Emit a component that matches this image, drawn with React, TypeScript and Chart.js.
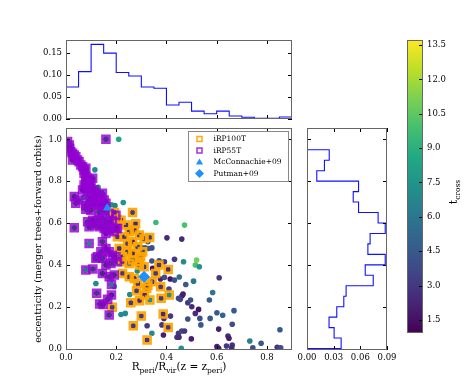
import React, { useEffect, useRef } from 'react';
import { Chart, registerables } from 'chart.js';
Chart.register(...registerables);

const W = 473;
const H = 377;
const FONT = "'DejaVu Serif', serif";

// ---------------- data ----------------
// top histogram: normalised distribution of R_peri/R_vir
const rperiEdges = [0, 0.05, 0.1, 0.15, 0.2, 0.25, 0.3, 0.35, 0.4, 0.45, 0.5, 0.55, 0.6, 0.65, 0.7, 0.75, 0.8, 0.85, 0.9];
const rperiDensity = [0.073, 0.108, 0.17, 0.15, 0.106, 0.098, 0.073, 0.07, 0.032, 0.038, 0.018, 0.012, 0.018, 0.007, 0.004, 0.0015, 0.0015, 0.0045];

// right histogram: normalised distribution of eccentricity
const eccEdges = [0, 0.05, 0.1, 0.15, 0.2, 0.25, 0.3, 0.35, 0.4, 0.45, 0.5, 0.55, 0.6, 0.65, 0.7, 0.75, 0.8, 0.85, 0.9, 0.95];
const eccDensity = [0.0384, 0.0305, 0.0248, 0.0335, 0.0414, 0.044, 0.0745, 0.0655, 0.088, 0.0685, 0.071, 0.088, 0.08, 0.058, 0.052, 0.058, 0.011, 0.0196, 0.025];

// tick values
const rperiTicks = [0, 0.2, 0.4, 0.6, 0.8];
const eccTicks = [0, 0.2, 0.4, 0.6, 0.8, 1.0];
const rperiDensTicks = [0, 0.05, 0.1, 0.15];
const eccDensTicks = [0, 0.03, 0.06, 0.09];
const tcrossTicks = [1.5, 3, 4.5, 6, 7.5, 9, 10.5, 12, 13.5];
const tcrossMin = 0.93;
const tcrossMax = 13.72;

// all orbits: [R_peri/R_vir, eccentricity, t_cross]
const allOrbits: number[][] = [
  [0.21, 1.0, 8.5], [0.115, 0.854, 7], [0.128, 0.771, 7], [0.07, 0.723, 7], [0.181, 0.687, 7.5], [0.195, 0.683, 6.5],
  [0.228, 0.698, 7.5], [0.358, 0.602, 9.5], [0.472, 0.59, 10], [0.326, 0.51, 4.5], [0.302, 0.481, 4.5], [0.315, 0.481, 4.5],
  [0.329, 0.478, 4.5], [0.342, 0.481, 4], [0.402, 0.529, 2.5], [0.461, 0.523, 2.5], [0.342, 0.418, 4], [0.371, 0.419, 4],
  [0.392, 0.415, 3], [0.432, 0.427, 3], [0.468, 0.415, 7], [0.52, 0.423, 11], [0.515, 0.399, 10], [0.531, 0.391, 7.5],
  [0.284, 0.37, 7], [0.345, 0.383, 1.5], [0.451, 0.342, 5.5], [0.415, 0.332, 1.5], [0.432, 0.327, 4], [0.376, 0.332, 2],
  [0.392, 0.34, 4], [0.41, 0.284, 3.5], [0.508, 0.322, 6], [0.61, 0.338, 3], [0.477, 0.306, 4.5], [0.466, 0.26, 2],
  [0.462, 0.252, 2], [0.448, 0.24, 3.5], [0.455, 0.235, 3.5], [0.485, 0.219, 3], [0.496, 0.232, 4], [0.501, 0.2, 2.5],
  [0.528, 0.187, 1.5], [0.515, 0.168, 2.5], [0.584, 0.268, 6], [0.571, 0.232, 4.5], [0.601, 0.171, 4.5], [0.574, 0.144, 4.5],
  [0.624, 0.159, 5], [0.608, 0.093, 2], [0.485, 0.141, 4], [0.537, 0.113, 4.5], [0.382, 0.113, 3], [0.323, 0.109, 3],
  [0.342, 0.073, 7], [0.388, 0.065, 2], [0.448, 0.073, 3], [0.461, 0.084, 3.5], [0.472, 0.084, 3], [0.442, 0.054, 3],
  [0.45, 0.054, 2.5], [0.499, 0.046, 2], [0.459, 0.001, 7.5], [0.645, 0.06, 2.5], [0.649, 0.049, 2], [0.662, 0.017, 3],
  [0.601, 0.009, 2], [0.608, 0.001, 2], [0.639, 0.012, 3], [0.66, 0.004, 2.5], [0.669, 0.181, 4.5], [0.662, 0.116, 4],
  [0.732, 0.036, 6.5], [0.744, 0.004, 4], [0.777, 0.025, 4.5], [0.852, 0.09, 4.5], [0.841, 0.006, 3], [0.855, 0.004, 4],
  [0.119, 0.311, 7], [0.192, 0.297, 7], [0.254, 0.258, 7], [0.219, 0.163, 7], [0.236, 0.168, 7], [0.416, 0.155, 3],
  [0.39, 0.144, 2.5], [0.533, 0.144, 4],
];

// iRP55T subsample: [R_peri/R_vir, eccentricity, t_cross]
const iRP55T: number[][] = [
  [0.006, 0.989, 2.5], [0.013, 0.973, 3], [0.015, 0.957, 2], [0.019, 0.941, 3.5], [0.026, 0.933, 2.5], [0.033, 0.925, 3],
  [0.026, 0.901, 2], [0.039, 0.917, 3], [0.046, 0.901, 2.5], [0.052, 0.893, 4], [0.059, 0.877, 3], [0.066, 0.869, 2],
  [0.072, 0.853, 3.5], [0.079, 0.861, 2.5], [0.072, 0.838, 3], [0.079, 0.822, 2], [0.086, 0.814, 3], [0.092, 0.806, 2.5],
  [0.079, 0.798, 4], [0.072, 0.782, 3], [0.086, 0.782, 2], [0.099, 0.79, 3], [0.106, 0.814, 2.5], [0.099, 0.766, 3.5],
  [0.079, 0.766, 3], [0.066, 0.758, 2], [0.086, 0.75, 3], [0.112, 0.758, 2.5], [0.119, 0.742, 3], [0.132, 0.734, 2],
  [0.145, 0.742, 3.5], [0.139, 0.718, 3], [0.125, 0.71, 2.5], [0.112, 0.702, 3], [0.099, 0.718, 2], [0.092, 0.71, 3],
  [0.106, 0.687, 2.5], [0.079, 0.683, 3], [0.052, 0.71, 4], [0.039, 0.694, 3], [0.033, 0.726, 2.5], [0.152, 0.71, 3],
  [0.159, 0.694, 2], [0.145, 0.687, 3], [0.132, 0.687, 2.5], [0.159, 1.0, 3],
  [0.079, 0.666, 3], [0.099, 0.661, 2.5], [0.132, 0.653, 3], [0.152, 0.661, 2], [0.172, 0.645, 3], [0.199, 0.637, 2.5],
  [0.086, 0.606, 3], [0.106, 0.613, 2], [0.125, 0.613, 3], [0.145, 0.621, 3.5], [0.159, 0.606, 2.5], [0.172, 0.598, 3],
  [0.185, 0.613, 2], [0.132, 0.582, 3], [0.152, 0.574, 2.5], [0.172, 0.566, 3], [0.199, 0.574, 2], [0.033, 0.577, 3],
  [0.092, 0.582, 2.5], [0.112, 0.59, 3], [0.159, 0.55, 2.5], [0.192, 0.558, 3], [0.205, 0.574, 2],
  [0.092, 0.502, 7], [0.145, 0.51, 3], [0.159, 0.478, 2.5], [0.139, 0.462, 3], [0.125, 0.439, 2], [0.145, 0.431, 3],
  [0.172, 0.462, 2.5], [0.185, 0.446, 3], [0.119, 0.431, 3.5], [0.159, 0.399, 2.5], [0.179, 0.407, 3], [0.199, 0.439, 2],
  [0.205, 0.415, 3], [0.079, 0.375, 6], [0.107, 0.38, 3], [0.145, 0.359, 2.5], [0.172, 0.343, 3], [0.192, 0.351, 2.5],
  [0.181, 0.306, 6], [0.122, 0.264, 3], [0.134, 0.213, 3], [0.148, 0.21, 2.5], [0.166, 0.235, 3], [0.181, 0.256, 2],
  [0.172, 0.16, 3],
];

// iRP100T subsample: [R_peri/R_vir, eccentricity, t_cross]
const iRP100T: number[][] = [
  [0.265, 0.65, 3], [0.193, 0.65, 2.5], [0.219, 0.613, 3], [0.204, 0.617, 2], [0.239, 0.59, 3], [0.277, 0.596, 2.5],
  [0.205, 0.534, 3], [0.232, 0.534, 2.5], [0.252, 0.558, 3], [0.272, 0.566, 2], [0.292, 0.542, 3], [0.311, 0.526, 3.5],
  [0.333, 0.531, 3], [0.212, 0.478, 2.5], [0.245, 0.502, 3], [0.265, 0.51, 2], [0.285, 0.486, 3], [0.225, 0.439, 2.5],
  [0.245, 0.462, 3], [0.265, 0.454, 2], [0.305, 0.462, 3.5], [0.225, 0.415, 3], [0.265, 0.423, 2.5], [0.252, 0.407, 3],
  [0.292, 0.415, 2], [0.297, 0.439, 3], [0.292, 0.399, 2.5], [0.311, 0.391, 3], [0.37, 0.399, 3], [0.407, 0.378, 2.5],
  [0.357, 0.359, 3], [0.252, 0.343, 3], [0.272, 0.335, 2.5], [0.343, 0.319, 3], [0.286, 0.311, 2.5], [0.326, 0.303, 3],
  [0.321, 0.288, 2], [0.281, 0.276, 3], [0.313, 0.256, 2.5], [0.377, 0.295, 3], [0.379, 0.24, 3], [0.411, 0.256, 7],
  [0.258, 0.219, 3], [0.293, 0.229, 2.5], [0.334, 0.232, 7], [0.184, 0.197, 3], [0.3, 0.155, 3], [0.387, 0.165, 2.5],
  [0.268, 0.109, 3], [0.407, 0.101, 3], [0.323, 0.041, 3], [0.225, 0.359, 3],
];

const mcConnachie09 = [[0.164, 0.672]];
const putman09 = [[0.311, 0.343]];
const legendLabels = ['iRP100T', 'iRP55T', 'McConnachie+09', 'Putman+09'];

// ---------------- styling ----------------
const ORANGE = 'rgba(255,165,0,0.95)';
const PURPLE = 'rgba(148,0,211,0.82)';
const OBS_BLUE = '#1E90FF';
const HIST_BLUE = '#1010ff';

const VIRIDIS = ['#440154', '#482475', '#414487', '#355f8d', '#2a788e', '#21918c', '#22a884', '#44bf70', '#7ad151', '#bddf26', '#fde725'];
function hexRgb(h: string) {
  return [parseInt(h.slice(1, 3), 16), parseInt(h.slice(3, 5), 16), parseInt(h.slice(5, 7), 16)];
}
function viridis(f: number) {
  const c = Math.max(0, Math.min(1, f));
  const p = c * 10;
  const i = Math.min(9, Math.floor(p));
  const t = p - i;
  const a = hexRgb(VIRIDIS[i]);
  const b = hexRgb(VIRIDIS[i + 1]);
  return `rgb(${Math.round(a[0] + (b[0] - a[0]) * t)},${Math.round(a[1] + (b[1] - a[1]) * t)},${Math.round(a[2] + (b[2] - a[2]) * t)})`;
}
const tColor = (t: number) => viridis((t - tcrossMin) / (tcrossMax - tcrossMin));

// plot rectangles (page pixels)
const RECT = {
  top: { l: 66, r: 292, t: 40, b: 119 },
  main: { l: 66, r: 292, t: 128, b: 350 },
  right: { l: 307, r: 387, t: 128, b: 350 },
  cbar: { l: 407, r: 423, t: 40, b: 333 },
};

function scale(min: number, max: number, ticks: number[], digits: number, position: string, size: number, labels = true) {
  return {
    type: 'linear',
    position,
    min,
    max,
    grid: { display: false, drawTicks: false },
    border: { display: false },
    ticks: {
      display: labels,
      color: '#000',
      font: { family: FONT, size: 8.5 },
      padding: position === 'bottom' ? 3 : 4,
      autoSkip: false,
      maxRotation: 0,
      callback: (v: number) => Number(v).toFixed(digits),
    },
    afterBuildTicks: (s: any) => {
      s.ticks = ticks.map((v) => ({ value: v }));
    },
    afterFit: (s: any) => {
      if (position === 'left' || position === 'right') s.width = size;
      else s.height = size;
    },
  };
}

const framePlugin = {
  id: 'frame',
  afterDatasetsDraw(chart: any, _args: any, opts: any) {
    const { ctx, chartArea: a } = chart;
    const L = 4;
    ctx.save();
    ctx.strokeStyle = '#000';
    ctx.lineWidth = 1;
    ctx.beginPath();
    const xs = chart.scales.x;
    const ys = chart.scales.y;
    if (opts.xTicks && xs) {
      for (const t of xs.ticks) {
        const p = Math.round(xs.getPixelForValue(t.value)) + 0.5;
        ctx.moveTo(p, a.bottom);
        ctx.lineTo(p, a.bottom - L);
        ctx.moveTo(p, a.top);
        ctx.lineTo(p, a.top + L);
      }
    }
    if (opts.yTicks && ys) {
      for (const t of ys.ticks) {
        const p = Math.round(ys.getPixelForValue(t.value)) + 0.5;
        if (!opts.rightOnly) {
          ctx.moveTo(a.left, p);
          ctx.lineTo(a.left + L, p);
        }
        ctx.moveTo(a.right, p);
        ctx.lineTo(a.right - L, p);
      }
    }
    ctx.stroke();
    ctx.strokeStyle = '#666';
    ctx.strokeRect(Math.round(a.left) + 0.5, Math.round(a.top) + 0.5, Math.round(a.right - a.left) - 1, Math.round(a.bottom - a.top) - 1);
    ctx.restore();
  },
};

function drawParts(ctx: CanvasRenderingContext2D, parts: [string, boolean][], size: number, subSize: number, subDrop: number) {
  let w = 0;
  for (const [t, sub] of parts) {
    ctx.font = `${sub ? subSize : size}px ${FONT}`;
    w += ctx.measureText(t).width;
  }
  let x = -w / 2;
  for (const [t, sub] of parts) {
    ctx.font = `${sub ? subSize : size}px ${FONT}`;
    ctx.fillText(t, x, sub ? subDrop : 0);
    x += ctx.measureText(t).width;
  }
}

const mainDecor = {
  id: 'mainDecor',
  afterDraw(chart: any) {
    const { ctx, chartArea: a } = chart;
    ctx.save();
    ctx.fillStyle = '#000';
    ctx.textBaseline = 'alphabetic';
    // y-axis label
    ctx.save();
    ctx.translate(41, (a.top + a.bottom) / 2);
    ctx.rotate(-Math.PI / 2);
    ctx.font = `9.5px ${FONT}`;
    ctx.textAlign = 'center';
    ctx.fillText('eccentricity (merger trees+forward orbits)', 0, 0);
    ctx.restore();
    // x-axis label
    ctx.save();
    ctx.translate((a.left + a.right) / 2, 370);
    ctx.textAlign = 'left';
    drawParts(ctx, [['R', false], ['peri', true], ['/R', false], ['vir', true], ['(z = z', false], ['peri', true], [')', false]], 10.5, 7.5, 3);
    ctx.restore();

    // legend
    const bw = 100, bh = 50;
    const bx = a.right - 4 - bw;
    const by = a.top + 3;
    ctx.fillStyle = '#fff';
    ctx.fillRect(bx, by, bw, bh);
    ctx.strokeStyle = '#888';
    ctx.lineWidth = 1;
    ctx.strokeRect(Math.round(bx) + 0.5, Math.round(by) + 0.5, bw, bh);
    const mx = bx + 11.5;
    const tx = bx + 25.5;
    ctx.font = `7.5px ${FONT}`;
    ctx.textBaseline = 'middle';
    legendLabels.forEach((lab, i) => {
      const y = by + 8 + i * 11.5;
      ctx.lineWidth = 1.5;
      if (i === 0 || i === 1) {
        ctx.strokeStyle = i === 0 ? ORANGE : PURPLE;
        ctx.strokeRect(mx - 2.5, y - 2.5, 5, 5);
      } else if (i === 2) {
        ctx.fillStyle = OBS_BLUE;
        ctx.beginPath();
        ctx.moveTo(mx, y - 3.5);
        ctx.lineTo(mx + 3.5, y + 2.5);
        ctx.lineTo(mx - 3.5, y + 2.5);
        ctx.closePath();
        ctx.fill();
      } else {
        ctx.fillStyle = OBS_BLUE;
        ctx.beginPath();
        ctx.moveTo(mx, y - 4.5);
        ctx.lineTo(mx + 4.5, y);
        ctx.lineTo(mx, y + 4.5);
        ctx.lineTo(mx - 4.5, y);
        ctx.closePath();
        ctx.fill();
      }
      ctx.fillStyle = '#000';
      ctx.fillText(lab, tx, y + 0.5);
    });
    ctx.restore();
  },
};

const cbarDecor = {
  id: 'cbarDecor',
  beforeDatasetsDraw(chart: any) {
    const { ctx, chartArea: a } = chart;
    const g = ctx.createLinearGradient(0, a.bottom, 0, a.top);
    VIRIDIS.forEach((c, i) => g.addColorStop(i / (VIRIDIS.length - 1), c));
    ctx.save();
    ctx.fillStyle = g;
    ctx.fillRect(a.left, a.top, a.right - a.left, a.bottom - a.top);
    ctx.restore();
  },
  afterDraw(chart: any) {
    const { ctx } = chart;
    ctx.save();
    ctx.fillStyle = '#000';
    ctx.translate(457, 192);
    ctx.rotate(-Math.PI / 2);
    ctx.textBaseline = 'alphabetic';
    drawParts(ctx, [['t', false], ['cross', true]], 11, 7.5, 3);
    ctx.restore();
  },
};

function pad(r: { l: number; r: number; t: number; b: number }, leftAxis: number, bottomAxis: number, rightAxis = 0) {
  return { left: r.l - leftAxis, top: r.t, right: W - r.r - rightAxis, bottom: H - r.b - bottomAxis };
}

const baseOpts = {
  responsive: false,
  animation: false as const,
  events: [] as any[],
};

export default function App() {
  const topRef = useRef<HTMLCanvasElement>(null);
  const mainRef = useRef<HTMLCanvasElement>(null);
  const rightRef = useRef<HTMLCanvasElement>(null);
  const cbarRef = useRef<HTMLCanvasElement>(null);

  useEffect(() => {
    const charts: Chart[] = [];

    // top histogram
    const topPts: { x: number; y: number }[] = [{ x: rperiEdges[0], y: 0 }];
    rperiDensity.forEach((d, i) => {
      topPts.push({ x: rperiEdges[i], y: d }, { x: rperiEdges[i + 1], y: d });
    });
    topPts.push({ x: rperiEdges[rperiEdges.length - 1], y: 0 });
    charts.push(
      new Chart(topRef.current!, {
        type: 'scatter',
        data: { datasets: [{ data: topPts, showLine: true, pointRadius: 0, borderColor: HIST_BLUE, borderWidth: 1.1, fill: false }] },
        options: {
          ...baseOpts,
          layout: { padding: pad(RECT.top, 40, 0) },
          plugins: { legend: { display: false }, tooltip: { enabled: false }, frame: { xTicks: true, yTicks: true } } as any,
          scales: {
            x: scale(0, 0.9, rperiTicks, 1, 'bottom', 0, false),
            y: scale(0, 0.18, rperiDensTicks, 2, 'left', 40),
          } as any,
        },
        plugins: [framePlugin],
      } as any)
    );

    // main scatter
    const dotSrc = [...allOrbits, ...iRP55T, ...iRP100T];
    charts.push(
      new Chart(mainRef.current!, {
        type: 'scatter',
        data: {
          datasets: [
            {
              label: 'all',
              data: dotSrc.map((p) => ({ x: p[0], y: p[1] })),
              backgroundColor: dotSrc.map((p) => tColor(p[2])),
              pointRadius: 2.8,
              borderWidth: 0,
              order: 3,
            },
            {
              label: legendLabels[0],
              data: iRP100T.map((p) => ({ x: p[0], y: p[1] })),
              pointStyle: 'rect',
              pointRadius: 4.9,
              borderWidth: 2.6,
              borderColor: ORANGE,
              backgroundColor: 'rgba(0,0,0,0)',
              order: 2,
            },
            {
              label: legendLabels[1],
              data: iRP55T.map((p) => ({ x: p[0], y: p[1] })),
              pointStyle: 'rect',
              pointRadius: 4.9,
              borderWidth: 2.6,
              borderColor: PURPLE,
              backgroundColor: 'rgba(0,0,0,0)',
              order: 1,
            },
            {
              label: legendLabels[2],
              data: mcConnachie09.map((p) => ({ x: p[0], y: p[1] })),
              pointStyle: 'triangle',
              pointRadius: 5,
              borderWidth: 0,
              backgroundColor: OBS_BLUE,
              order: 0,
            },
            {
              label: legendLabels[3],
              data: putman09.map((p) => ({ x: p[0], y: p[1] })),
              pointStyle: 'rectRot',
              pointRadius: 6,
              borderWidth: 0,
              backgroundColor: OBS_BLUE,
              order: 0,
            },
          ],
        },
        options: {
          ...baseOpts,
          layout: { padding: pad(RECT.main, 40, 20) },
          plugins: { legend: { display: false }, tooltip: { enabled: false }, frame: { xTicks: true, yTicks: true } } as any,
          scales: {
            x: scale(0, 0.9, rperiTicks, 1, 'bottom', 20),
            y: scale(-0.007, 1.054, eccTicks, 1, 'left', 40),
          } as any,
        },
        plugins: [framePlugin, mainDecor],
      } as any)
    );

    // right histogram
    const rPts: { x: number; y: number }[] = [{ x: 0, y: eccEdges[0] }];
    eccDensity.forEach((d, i) => {
      rPts.push({ x: d, y: eccEdges[i] }, { x: d, y: eccEdges[i + 1] });
    });
    rPts.push({ x: 0, y: eccEdges[eccEdges.length - 1] });
    charts.push(
      new Chart(rightRef.current!, {
        type: 'scatter',
        data: { datasets: [{ data: rPts, showLine: true, pointRadius: 0, borderColor: HIST_BLUE, borderWidth: 1.1, fill: false }] },
        options: {
          ...baseOpts,
          layout: { padding: pad(RECT.right, 0, 20) },
          plugins: { legend: { display: false }, tooltip: { enabled: false }, frame: { xTicks: true, yTicks: true } } as any,
          scales: {
            x: scale(0, 0.09, eccDensTicks, 2, 'bottom', 20),
            y: scale(-0.007, 1.054, eccTicks, 1, 'left', 0, false),
          } as any,
        },
        plugins: [framePlugin],
      } as any)
    );

    // colour bar
    charts.push(
      new Chart(cbarRef.current!, {
        type: 'scatter',
        data: { datasets: [{ data: [] }] },
        options: {
          ...baseOpts,
          layout: { padding: pad(RECT.cbar, 0, 0, 30) },
          plugins: { legend: { display: false }, tooltip: { enabled: false }, frame: { xTicks: false, yTicks: true, rightOnly: true } } as any,
          scales: {
            x: { type: 'linear', display: false, min: 0, max: 1 },
            y: scale(tcrossMin, tcrossMax, tcrossTicks, 1, 'right', 30),
          } as any,
        },
        plugins: [cbarDecor, framePlugin],
      } as any)
    );

    return () => charts.forEach((c) => c.destroy());
  }, []);

  const cs: React.CSSProperties = { position: 'absolute', left: 0, top: 0 };
  return (
    <div style={{ position: 'absolute', left: 0, top: 0, width: W, height: H, background: '#fff' }}>
      <canvas ref={topRef} width={W} height={H} style={cs} />
      <canvas ref={mainRef} width={W} height={H} style={cs} />
      <canvas ref={rightRef} width={W} height={H} style={cs} />
      <canvas ref={cbarRef} width={W} height={H} style={cs} />
    </div>
  );
}
